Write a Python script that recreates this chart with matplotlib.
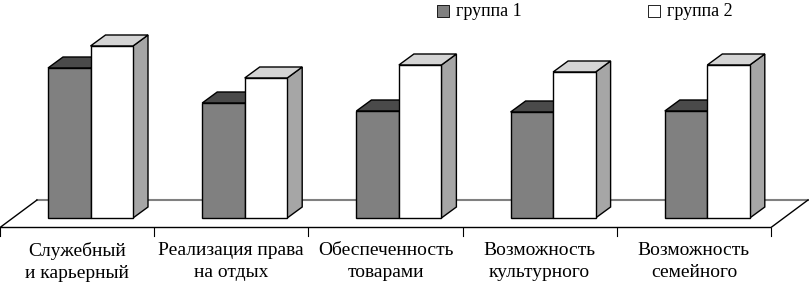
import matplotlib
matplotlib.use('Agg')
import matplotlib.pyplot as plt
from matplotlib.patches import Polygon
import numpy as np

plt.rcParams['font.family'] = ['Liberation Serif', 'DejaVu Serif']

# Data
categories = ['Служебный\nи карьерный', 'Реализация права\nна отдых',
              'Обеспеченность\nтоварами', 'Возможность\nкультурного',
              'Возможность\nсемейного']
group1 = [75, 57.5, 53.5, 53, 53.5]
group2 = [86, 70, 76.5, 73, 76.5]
series_names = ['группа 1', 'группа 2']

# Fake 3D geometry (slot units on x, value units on y)
SLOT_PX = 154.2
DX = 15 / SLOT_PX      # depth shift to the right
DY = 5.5               # depth shift upward
BAR_W = 42.5 / SLOT_PX
BAR_OFF = 48 / SLOT_PX

front_col = ['#808080', '#ffffff']
top_col = ['#4a4a4a', '#d4d4d4']
side_col = ['#5a5a5a', '#a6a6a6']

fig = plt.figure(figsize=(8.09, 2.82), dpi=100)
ax = fig.add_axes([0, 0, 1, 1])
ax.set_xlim(0, 809 / SLOT_PX)
ax.set_ylim(-32, 109)
ax.axis('off')

n = len(categories)
# floor
floor_front, floor_back = -4.75, 9
floor_dx = 37 / SLOT_PX
ax.plot([floor_dx, n + floor_dx], [floor_back, floor_back], color='#808080', lw=1.5, zorder=1)
ax.plot([floor_dx, 0, n, n + floor_dx],
        [floor_back, floor_front, floor_front, floor_back], color='black', lw=1, zorder=1)
for i in range(n + 1):
    ax.plot([i, i], [floor_front, -9], color='black', lw=0.8, zorder=1)

x = np.arange(n)
for s, vals in enumerate([group1, group2]):
    left = x + BAR_OFF + s * BAR_W
    ax.bar(left, vals, width=BAR_W, align='edge', color=front_col[s],
           edgecolor='black', lw=1, zorder=3 + s)
    for l, v in zip(left, vals):
        top = Polygon([[l, v], [l + DX, v + DY], [l + BAR_W + DX, v + DY], [l + BAR_W, v]],
                      closed=True, fc=top_col[s], ec='black', lw=1, zorder=2 + s)
        side = Polygon([[l + BAR_W, 0], [l + BAR_W + DX, DY], [l + BAR_W + DX, v + DY], [l + BAR_W, v]],
                       closed=True, fc=side_col[s], ec='black', lw=1, zorder=2 + s)
        ax.add_patch(side)
        ax.add_patch(top)

for i, lab in enumerate(categories):
    ax.text(i + 0.5, -11.8, lab, ha='center', va='top', fontsize=14, linespacing=1.38)

# legend
leg_x = [443 / SLOT_PX, 654 / SLOT_PX]
for s in range(2):
    ax.scatter([leg_x[s]], [103.5], marker='s', s=65, c=front_col[s],
               edgecolors='black', linewidths=0.6, zorder=5)
    ax.text(leg_x[s] + 13 / SLOT_PX, 103.5, series_names[s], ha='left', va='center', fontsize=13)

fig.savefig('out.png', dpi=100)
